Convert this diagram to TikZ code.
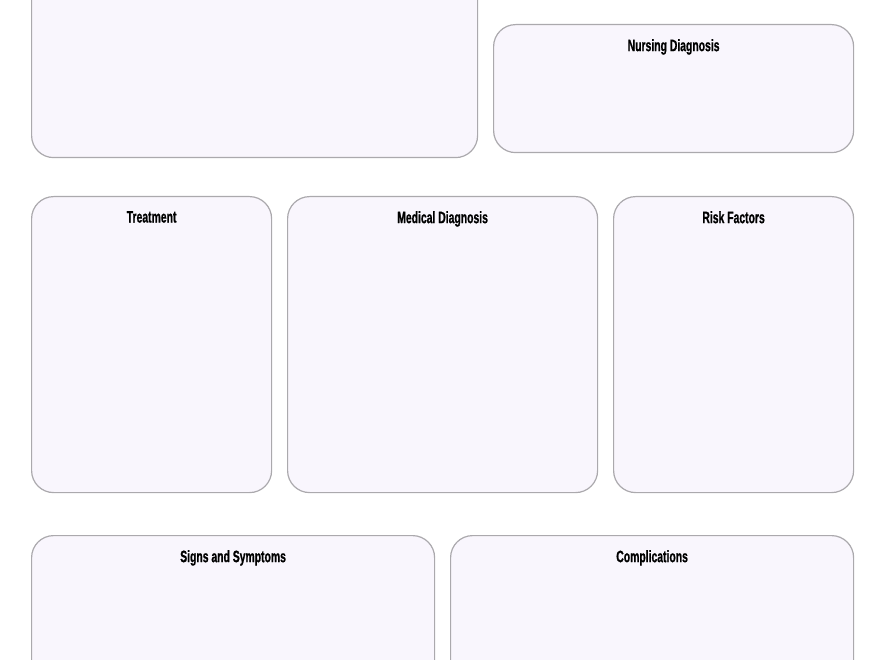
\documentclass[tikz,border=0pt]{standalone}
\usepackage{fontspec}
\setmainfont{Liberation Sans}
\newfontfamily\paneltitlefont{Liberation Sans Bold}[FakeStretch=0.63,FakeBold=0.8]
\usepackage{xcolor}
\usetikzlibrary{positioning}
\definecolor{panelfill}{HTML}{F9F6FD}
\definecolor{panelline}{HTML}{ABA9AD}
\tikzset{
	panel/.style={draw=panelline,fill=panelfill,line width=1.2pt,rounded corners=22pt,anchor=north west,inner sep=0pt},%
	paneltitle/.style={font=\paneltitlefont\fontsize{16.5}{18}\selectfont,inner sep=0pt,anchor=north},%
}
\begin{document}
\begin{tikzpicture}[x=1pt,y=-1pt]
		\useasboundingbox (0,0) rectangle (880,660);
		\clip (0,0) rectangle (880,660);
		% Top row {{{
		\node[panel,minimum width=446pt,minimum height=200pt] (concept) at (31,-43) {};
		\node[panel,minimum width=360pt,minimum height=128pt] (nursing) at (493,24) {};
		\node[paneltitle,below=15pt of nursing.north] (nursingtitle) {Nursing Diagnosis};
		% }}}
		% Middle row {{{
		\node[panel,minimum width=240pt,minimum height=296pt] (treatment) at (31,196) {};
		\node[panel,minimum width=310pt,minimum height=296pt] (medical) at (287,196) {};
		\node[panel,minimum width=240pt,minimum height=296pt] (risk) at (613,196) {};
		\node[paneltitle,below=15pt of treatment.north] (treatmenttitle) {Treatment};
		\node[paneltitle,below=15pt of medical.north] (medicaltitle) {Medical Diagnosis};
		\node[paneltitle,below=15pt of risk.north] (risktitle) {Risk Factors};
		% }}}
		% Bottom row {{{
		\node[panel,minimum width=403pt,minimum height=200pt] (signs) at (31,535) {};
		\node[panel,minimum width=403pt,minimum height=200pt] (complications) at (450,535) {};
		\node[paneltitle,below=15pt of signs.north] (signstitle) {Signs and Symptoms};
		\node[paneltitle,below=15pt of complications.north] (complicationstitle) {Complications};
		% }}}
	\end{tikzpicture}
\end{document}
